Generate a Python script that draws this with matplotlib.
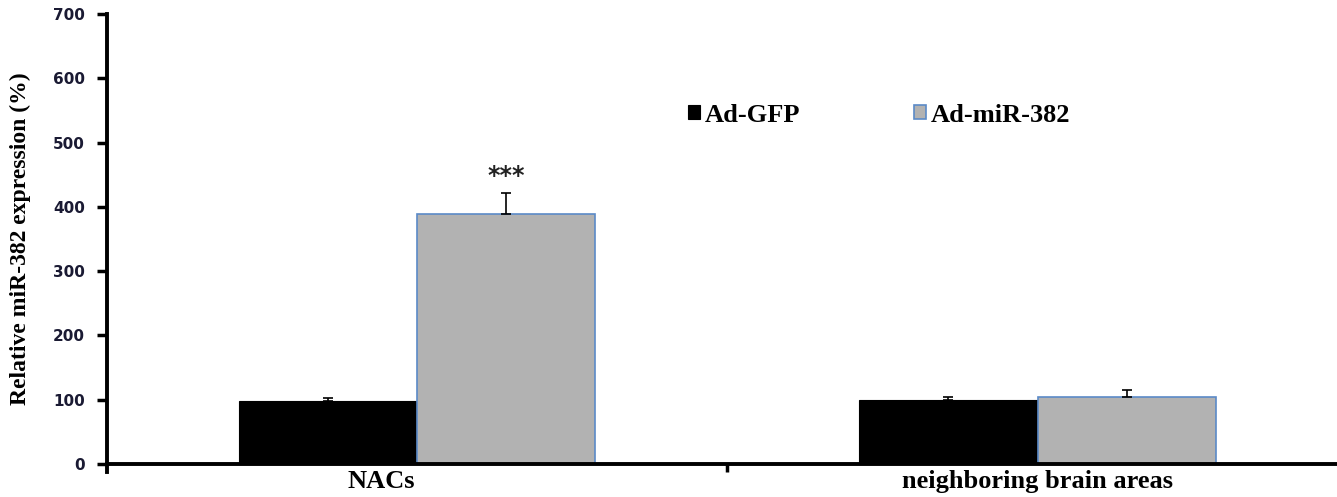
import numpy as np
import matplotlib
matplotlib.use('Agg')
import matplotlib.pyplot as plt

categories = ['NACs', 'neighboring brain areas']
series = ['Ad-GFP', 'Ad-miR-382']
gfp = [98, 100]
gfp_err = [5, 4]
mir = [389, 104]
mir_err = [32, 11]
yticks = [0, 100, 200, 300, 400, 500, 600, 700]

fig = plt.figure(figsize=(13.37, 4.97), dpi=100)
ax = fig.add_axes([0.080, 0.0664, 0.928, 0.9054])

x = np.arange(len(categories))
w = 0.287
ekw = dict(ecolor='black', capsize=3.8, elinewidth=1.2, capthick=1.2)
ax.bar(x - w / 2, gfp, w, color='black', edgecolor='black', linewidth=0.8,
       yerr=[np.zeros(2), gfp_err], error_kw=ekw, label=series[0])
ax.bar(x + w / 2, mir, w, color='#b2b2b2', edgecolor='#5b8ac7', linewidth=1.2,
       yerr=[np.zeros(2), mir_err], error_kw=ekw, label=series[1])

ax.text(x[0] + w / 2, mir[0] + mir_err[0] + 8, '***', ha='center', va='bottom',
        fontsize=17, fontweight='bold', family='DejaVu Sans', color='#222222')

ax.set_xlim(-0.5, 1.5)
ax.set_ylim(0, 700)
ax.set_yticks(yticks)
ax.set_yticklabels([str(t) for t in yticks], fontsize=11, fontweight='bold',
                   family='DejaVu Sans', color='#1a1a33')
ax.set_xticks([0.5])
ax.set_xticklabels([''])
ax.tick_params(axis='x', which='major', length=6, width=2.5, direction='out')
ax.tick_params(axis='y', length=7, width=2.5, direction='out', pad=9)

# category labels (NACs sits a little left of its bar pair in the original)
label_x = [x[0] - 0.058, x[1]]
for lx, name in zip(label_x, categories):
    ax.text(lx, -9, name, ha='center', va='top', fontsize=19, fontweight='bold',
            family='Liberation Serif')

ax.set_ylabel('Relative miR-382 expression (%)', fontsize=17, fontweight='bold',
              family='Liberation Serif')
ax.yaxis.set_label_coords(-0.061, 0.5)

for s in ['top', 'right']:
    ax.spines[s].set_visible(False)
for s in ['left', 'bottom']:
    ax.spines[s].set_linewidth(2.8)
ax.spines['left'].set_bounds(-13, 700)

leg = ax.legend(loc='center left', bbox_to_anchor=(664 / 1337, 1 - 115 / 497),
                bbox_transform=fig.transFigure, ncol=2, frameon=False,
                handlelength=0.45, handleheight=0.45, handletextpad=0.2, columnspacing=4.3,
                prop={'family': 'Liberation Serif', 'weight': 'bold', 'size': 19})

fig.savefig('out.png', dpi=100)
